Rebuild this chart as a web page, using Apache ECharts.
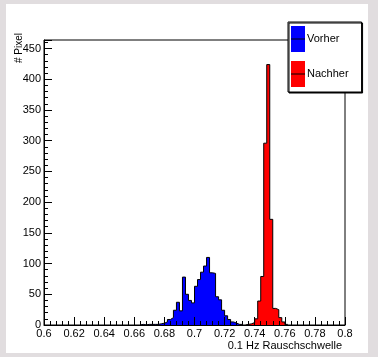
<!DOCTYPE html>
<html>
<head>
<meta charset="utf-8">
<script src="https://cdn.jsdelivr.net/npm/echarts@6/dist/echarts.min.js"></script>
<style>
html, body { margin: 0; padding: 0; background: #e1dddf; }
#canvas { position: absolute; left: 6px; top: 4px; width: 362px; height: 349px; background: #fff; }
#main { position: absolute; left: 0; top: 0; width: 378px; height: 357px; }
</style>
</head>
<body>
<div id="canvas"></div>
<div id="main"></div>
<script>
// Bin-Kanten (n+1) und Einträge pro Bin
var vorherEdges = [0.664, 0.666, 0.668, 0.670, 0.672, 0.674, 0.676, 0.678, 0.680, 0.682,
    0.684, 0.686, 0.688, 0.690, 0.692, 0.694, 0.696, 0.698, 0.700, 0.702,
    0.704, 0.706, 0.708, 0.710, 0.712, 0.714, 0.716, 0.718, 0.720, 0.722,
    0.724, 0.726, 0.728, 0.730, 0.732];
var vorherCounts = [1, 0, 1, 1, 1, 1, 2, 3, 5, 9,
    12, 24, 37, 23, 78, 50, 40, 36, 63, 74,
    86, 96, 110, 85, 84, 46, 41, 24, 15, 9,
    5, 3, 1, 1];

var nachherEdges = [0.734, 0.736, 0.738, 0.740, 0.742, 0.744, 0.746, 0.748, 0.750, 0.752,
    0.754, 0.756, 0.758, 0.760, 0.762];
var nachherCounts = [1, 2, 4, 10, 39, 79, 296, 424, 172, 27,
    25, 12, 5, 1];

var xTicks = [0.6, 0.62, 0.64, 0.66, 0.68, 0.7, 0.72, 0.74, 0.76, 0.78, 0.8];
var yTicks = [0, 50, 100, 150, 200, 250, 300, 350, 400, 450];

var font = 'Liberation Sans, Arial, Helvetica, sans-serif';

// Histogramm als Treppenlinie: links auf 0, dann jede Bin-Höhe, rechts wieder auf 0
function histPoints(edges, counts) {
    var pts = [[edges[0], 0]];
    for (var i = 0; i < counts.length; i++) {
        pts.push([edges[i], counts[i]]);
    }
    var last = edges[edges.length - 1];
    pts.push([last, counts[counts.length - 1]]);
    pts.push([last, 0]);
    return pts;
}

var myChart = echarts.init(document.getElementById('main'));

option = {
    animation: false,
    backgroundColor: 'transparent',
    grid: {
        left: 44, right: 33, top: 40, bottom: 32,
        show: true, borderColor: '#000', borderWidth: 1, backgroundColor: '#fff'
    },
    legend: {
        orient: 'vertical',
        left: 288, top: 22,
        padding: [4, 13, 5, 3],
        itemGap: 9, itemWidth: 14, itemHeight: 26,
        icon: 'rect',
        backgroundColor: '#fff', borderColor: '#000', borderWidth: 1,
        shadowColor: '#000', shadowOffsetX: 1, shadowOffsetY: 1, shadowBlur: 0,
        selectedMode: false,
        textStyle: { fontSize: 11, color: '#000', fontFamily: font, padding: [0, 0, 0, -3] },
        data: ['Vorher', 'Nachher']
    },
    xAxis: {
        type: 'value',
        min: 0.6, max: 0.8, interval: 0.02,
        z: 10,
        axisLine: { lineStyle: { color: '#000', width: 1 } },
        axisTick: { inside: true, length: 8, lineStyle: { color: '#000' } },
        minorTick: { show: true, splitNumber: 5, length: 4, lineStyle: { color: '#000' } },
        splitLine: { show: false },
        axisLabel: {
            margin: 3, fontSize: 11, color: '#000', fontFamily: font,
            formatter: function (v) {
                for (var i = 0; i < xTicks.length; i++) {
                    if (Math.abs(xTicks[i] - v) < 1e-6) return String(xTicks[i]);
                }
                return '';
            }
        }
    },
    yAxis: {
        type: 'value',
        min: 0, max: 464, interval: 50,
        z: 10,
        axisLine: { lineStyle: { color: '#000', width: 1 } },
        axisTick: { inside: true, length: 8, lineStyle: { color: '#000' } },
        minorTick: { show: true, splitNumber: 5, length: 4, lineStyle: { color: '#000' } },
        splitLine: { show: false },
        axisLabel: {
            margin: 3, fontSize: 11, color: '#000', fontFamily: font,
            showMaxLabel: false,
            formatter: function (v) {
                return yTicks.indexOf(v) >= 0 ? String(v) : '';
            }
        }
    },
    graphic: [
        { type: 'line', z: 100, shape: { x1: 291, y1: 39, x2: 305, y2: 39 }, style: { stroke: '#000', lineWidth: 1 } },
        { type: 'line', z: 100, shape: { x1: 291, y1: 74, x2: 305, y2: 74 }, style: { stroke: '#000', lineWidth: 1 } },
        {
            type: 'text', left: 'auto', right: 36, top: 340,
            style: { text: '0.1 Hz Rauschschwelle', fill: '#000', font: '11px ' + font }
        },
        {
            type: 'text', x: 14, y: 63, rotation: Math.PI / 2,
            style: { text: '# Pixel', fill: '#000', font: '10px ' + font, textAlign: 'left', textVerticalAlign: 'top' }
        }
    ],
    series: [
        {
            name: 'Vorher',
            type: 'line',
            step: 'end',
            symbol: 'none',
            data: histPoints(vorherEdges, vorherCounts),
            itemStyle: { color: '#0000ff' },
            lineStyle: { color: '#000', width: 1 },
            areaStyle: { color: '#0000ff', opacity: 1 },
            emphasis: { disabled: true }
        },
        {
            name: 'Nachher',
            type: 'line',
            step: 'end',
            symbol: 'none',
            data: histPoints(nachherEdges, nachherCounts),
            itemStyle: { color: '#ff0000' },
            lineStyle: { color: '#000', width: 1 },
            areaStyle: { color: '#ff0000', opacity: 1 },
            emphasis: { disabled: true }
        }
    ]
};

myChart.setOption(option);
</script>
</body>
</html>
